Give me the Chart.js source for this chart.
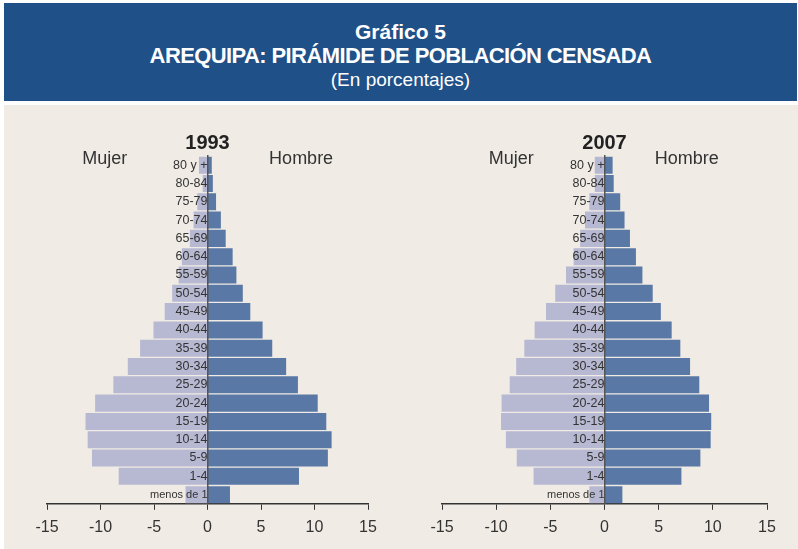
<!DOCTYPE html>
<html>
<head>
<meta charset="utf-8">
<script src="https://cdn.jsdelivr.net/npm/chart.js@4.4.0/dist/chart.umd.min.js"></script>
<style>
  html, body { margin: 0; padding: 0; background: #ffffff; }
  body { width: 798px; height: 549px; position: relative; overflow: hidden; font-family: "Liberation Sans", Arial, sans-serif; }
  #header {
    position: absolute; left: 4px; top: 3px; width: 793px; height: 98px;
    background: #1f5087; color: #fff; text-align: center;
  }
  #header div { position: absolute; width: 100%; line-height: 1; }
  #header .t1 { top: 18px; font-weight: bold; font-size: 21px; }
  #header .t2 { top: 42px; font-weight: bold; font-size: 22px; letter-spacing: -0.6px; }
  #header .t3 { top: 67px; font-size: 19px; }
  #panel { position: absolute; left: 4px; top: 105px; width: 794px; height: 444px; background: #f0ece5; }
  .box { position: absolute; top: 105px; height: 444px; }
  #left { left: 0; width: 400px; }
  #right { left: 400px; width: 398px; }
</style>
</head>
<body>
<div id="header">
  <div class="t1">Gráfico 5</div>
  <div class="t2">AREQUIPA: PIRÁMIDE DE POBLACIÓN CENSADA</div>
  <div class="t3">(En porcentajes)</div>
</div>
<div id="panel"></div>
<div class="box" id="left"><canvas id="chart1993"></canvas></div>
<div class="box" id="right"><canvas id="chart2007"></canvas></div>
<script>
const ageGroups = ['80 y +', '80-84', '75-79', '70-74', '65-69', '60-64', '55-59', '50-54', '45-49',
    '40-44', '35-39', '30-34', '25-29', '20-24', '15-19', '10-14', '5-9', '1-4', 'menos de 1'];
// women are plotted to the left, so kept as negative values
const mujer1993 = [-0.8, -0.45, -0.95, -1.3, -1.65, -2.4, -2.7, -3.3, -4.0,
    -5.05, -6.3, -7.45, -8.8, -10.5, -11.4, -11.2, -10.8, -8.3, -2.05];
const hombre1993 = [0.4, 0.5, 0.8, 1.25, 1.7, 2.35, 2.7, 3.3, 4.0,
    5.15, 6.05, 7.35, 8.45, 10.3, 11.1, 11.6, 11.25, 8.55, 2.1];
const mujer2007 = [-0.9, -0.9, -1.4, -1.8, -2.25, -2.85, -3.55, -4.55, -5.4,
    -6.45, -7.4, -8.15, -8.75, -9.5, -9.55, -9.1, -8.1, -6.55, -1.4];
const hombre2007 = [0.75, 0.85, 1.45, 1.85, 2.35, 2.9, 3.5, 4.45, 5.2,
    6.2, 7.0, 7.9, 8.75, 9.65, 9.85, 9.8, 8.85, 7.1, 1.65];
const xTicks = [-15, -10, -5, 0, 5, 10, 15];

const colMujer = '#b7b8d2';
const colHombre = '#5a78a5';
const textCol = '#333333';
const regular = '"Liberation Sans", Arial, sans-serif';

// Mujer / Hombre captions above the bars
const sideLabels = {
    id: 'sideLabels',
    afterDraw(chart, args, opts) {
        const ctx = chart.ctx;
        const x = chart.scales.x;
        ctx.save();
        ctx.fillStyle = textCol;
        ctx.font = '18px ' + regular;
        ctx.textAlign = 'center';
        ctx.textBaseline = 'middle';
        ctx.fillText('Mujer', x.getPixelForValue(opts.mujerAt), opts.y);
        ctx.fillText('Hombre', x.getPixelForValue(opts.hombreAt), opts.y);
        ctx.restore();
    }
};

function pyramid(canvasId, year, mujer, hombre, pad, labelPos) {
    return new Chart(document.getElementById(canvasId), {
        type: 'bar',
        data: {
            labels: ageGroups,
            datasets: [
                { label: 'Mujer', data: mujer, backgroundColor: colMujer, barPercentage: 0.93, categoryPercentage: 1 },
                { label: 'Hombre', data: hombre, backgroundColor: colHombre, barPercentage: 0.93, categoryPercentage: 1 }
            ]
        },
        options: {
            indexAxis: 'y',
            responsive: true,
            maintainAspectRatio: false,
            animation: false,
            layout: { padding: pad },
            scales: {
                x: {
                    stacked: true,
                    min: -15, max: 15,
                    afterBuildTicks: s => { s.ticks = xTicks.map(v => ({ value: v })); },
                    grid: { drawOnChartArea: false, drawTicks: true, tickLength: 6, color: textCol },
                    border: { color: textCol, width: 1.5 },
                    ticks: { color: textCol, padding: 8, font: { size: 16, family: regular } }
                },
                y: {
                    stacked: true,
                    position: { x: 0 },
                    afterFit: s => { s.width = 0; },
                    grid: { display: false, drawTicks: false },
                    border: { color: '#555555', width: 1.5, z: 1 },
                    ticks: {
                        z: 1,
                        autoSkip: false,
                        color: textCol,
                        padding: 2,
                        font: c => ({ size: c.index === ageGroups.length - 1 ? 11 : 12.5, family: regular })
                    }
                }
            },
            plugins: {
                legend: { display: false },
                tooltip: { enabled: false },
                title: {
                    display: true,
                    text: year,
                    color: '#222222',
                    font: { size: 20, weight: 'bold', family: regular },
                    padding: { top: 26, bottom: 1 }
                },
                sideLabels: labelPos
            }
        },
        plugins: [sideLabels]
    });
}

pyramid('chart1993', '1993', mujer1993, hombre1993,
    { left: 47, right: 32, top: 0, bottom: 4 }, { mujerAt: -9.6, hombreAt: 8.75, y: 54 });
pyramid('chart2007', '2007', mujer2007, hombre2007,
    { left: 42, right: 31, top: 0, bottom: 4 }, { mujerAt: -8.6, hombreAt: 7.6, y: 54 });
</script>
</body>
</html>
